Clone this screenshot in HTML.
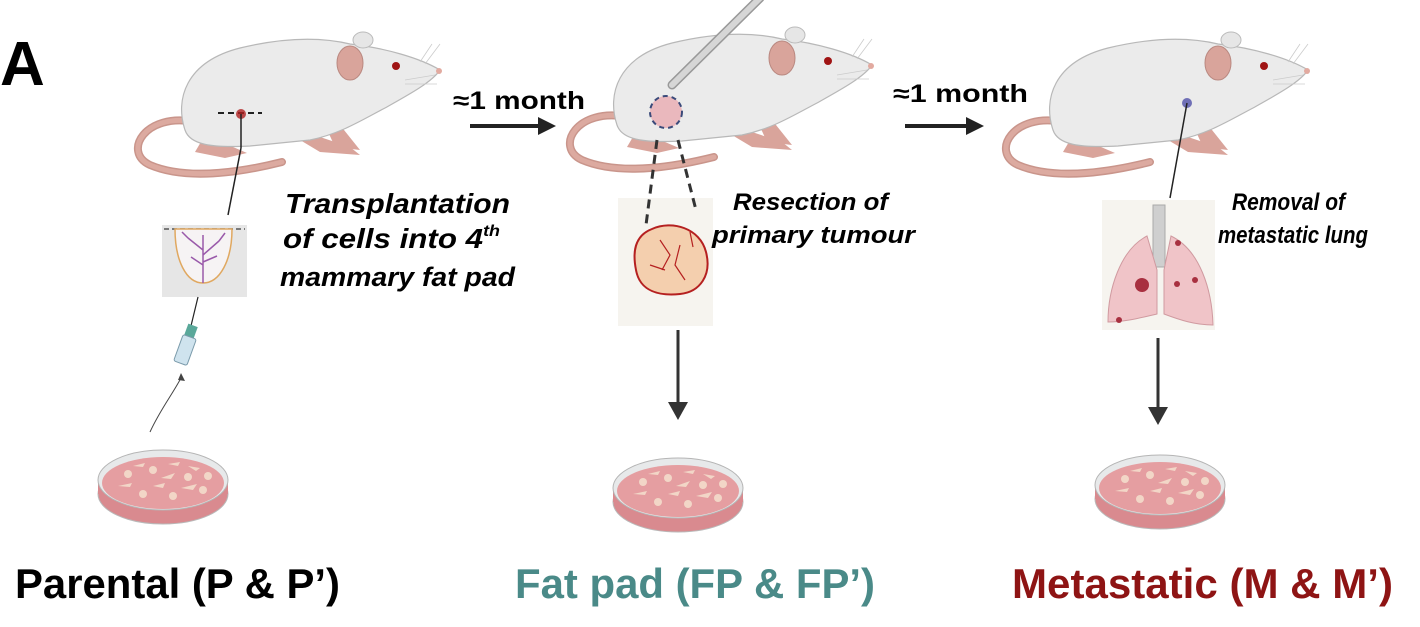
<!DOCTYPE html>
<html><head><meta charset="utf-8"><style>
html,body{margin:0;padding:0;background:#fff;}
svg{display:block;}
text{font-family:"Liberation Sans",Arial,sans-serif;font-weight:bold;}
</style></head><body>
<svg width="1420" height="627" viewBox="0 0 1420 627" xmlns="http://www.w3.org/2000/svg">
<defs>
<g id="mouse">
  <path d="M195,122 C145,112 122,152 150,165 C190,182 250,170 282,162" fill="none" stroke="#c9958b" stroke-width="8" stroke-linecap="round"/>
  <path d="M195,122 C145,112 122,152 150,165 C190,182 250,170 282,162" fill="none" stroke="#dcaaa0" stroke-width="5" stroke-linecap="round"/>
  <path d="M205,135 l-10,17 l30,6 l22,-5 z" fill="#d9a49b"/>
  <path d="M300,140 l20,12 l40,3 l-10,-8 l-30,-10 z" fill="#d9a49b"/>
  <path d="M325,125 l10,22 l25,3 l-20,-25 z" fill="#d9a49b"/>
  <path d="M185,130 C175,100 185,62 240,48 C290,36 325,38 350,44 C385,48 420,58 440,70 C432,82 410,94 385,108 C362,120 340,134 310,140 L250,146 C212,148 190,145 185,130 Z" fill="#ebebeb" stroke="#b8b8b8" stroke-width="1.2"/>
  <ellipse cx="363" cy="40" rx="10" ry="8" fill="#e6e6e6" stroke="#bbb"/>
  <ellipse cx="350" cy="63" rx="13" ry="17" fill="#d9a49b" stroke="#b98880"/>
  <circle cx="396" cy="66" r="4" fill="#a01414"/>
  <circle cx="439" cy="71" r="3" fill="#e2aaa0"/>
  <path d="M405,80 l30,-5 M405,84 l32,0 M420,62 l12,-18 M425,64 l15,-20" stroke="#ccc" stroke-width="0.8"/>
</g>
<g id="dish">
  <ellipse cx="0" cy="12" rx="65" ry="30" fill="#d98a8f" stroke="#b9b9b9"/>
  <rect x="-65" y="-2" width="130" height="14" fill="#d98a8f"/>
  <ellipse cx="0" cy="-2" rx="65" ry="30" fill="#e7e9ea" stroke="#b5b5b5"/>
  <ellipse cx="0" cy="1" rx="61" ry="26" fill="#e59ea1"/>
  <g fill="#f2d6c7">
    <circle cx="-35" cy="-8" r="4"/><circle cx="-10" cy="-12" r="4"/><circle cx="25" cy="-5" r="4"/><circle cx="40" cy="8" r="4"/><circle cx="-20" cy="12" r="4"/><circle cx="10" cy="14" r="4"/><circle cx="45" cy="-6" r="4"/>
    <path d="M-45,4 l14,-3 l-2,4 z M-2,-4 l14,-5 l-4,6 z M18,6 l16,-4 l-4,6 z M-30,-16 l12,-3 l-2,4z M5,-18 l12,-2 l-2,4z M-10,4 l12,-3 l-2,5z M25,-16 l12,2 l-4,3z"/>
  </g>
</g>
</defs>

<text x="0" y="85" font-size="62" fill="#000">A</text>

<use href="#mouse" x="0" y="0"/>
<use href="#mouse" x="432" y="-5"/>
<use href="#mouse" x="868" y="0"/>

<!-- mouse 1 details -->
<line x1="218" y1="113" x2="262" y2="113" stroke="#222" stroke-width="2" stroke-dasharray="6,4"/>
<circle cx="241" cy="114" r="5" fill="#b02020" opacity="0.8"/>
<line x1="241" y1="114" x2="241" y2="148" stroke="#222" stroke-width="1.5"/>
<line x1="241" y1="148" x2="228" y2="215" stroke="#222" stroke-width="1.5"/>
<rect x="162" y="225" width="85" height="72" fill="#e6e6e6"/>
<line x1="164" y1="229" x2="245" y2="229" stroke="#555" stroke-width="1.5" stroke-dasharray="5,3"/>
<path d="M175,229 L232,229 C232,260 220,283 203,283 C186,283 175,260 175,229 Z" fill="#f6f3f4" stroke="#e0a860" stroke-width="1.5"/>
<path d="M203,283 L203,235 M203,250 l-15,-12 M203,255 l16,-14 M203,265 l-12,-8 M203,262 l14,-6 M188,238 l-6,-6 M219,241 l6,-8" stroke="#9a5aaa" stroke-width="1.5" fill="none"/>
<line x1="198" y1="297" x2="190" y2="330" stroke="#222" stroke-width="1.2"/>
<rect x="186" y="325" width="10" height="12" fill="#5aa89a" transform="rotate(20 191 331)"/>
<rect x="178" y="336" width="14" height="28" rx="2" fill="#cfe3ee" stroke="#7a9aaa" transform="rotate(20 185 350)"/>
<path d="M150,432 C160,410 172,395 181,378" fill="none" stroke="#444" stroke-width="1"/>
<path d="M181,373 l4,8 l-7,-1 z" fill="#444"/>

<text x="285" y="213" font-size="28" font-style="italic" textLength="225" lengthAdjust="spacingAndGlyphs">Transplantation</text>
<text x="283" y="248" font-size="28" font-style="italic" textLength="217" lengthAdjust="spacingAndGlyphs">of cells into 4<tspan font-size="16" dy="-12">th</tspan></text>
<text x="280" y="286" font-size="27" font-style="italic" textLength="235" lengthAdjust="spacingAndGlyphs">mammary fat pad</text>

<!-- arrow 1 -->
<text x="453" y="109" font-size="25" textLength="132" lengthAdjust="spacingAndGlyphs">≈1 month</text>
<line x1="470" y1="126" x2="540" y2="126" stroke="#222" stroke-width="4"/>
<path d="M538,117 L556,126 L538,135 z" fill="#222"/>

<!-- mouse 2 details: scalpel -->
<line x1="672" y1="85" x2="760" y2="-2" stroke="#999" stroke-width="9" stroke-linecap="round"/>
<line x1="672" y1="85" x2="760" y2="-2" stroke="#d6d6d6" stroke-width="6" stroke-linecap="round"/>
<circle cx="666" cy="112" r="16" fill="#eab8bd" stroke="#3a4a7a" stroke-width="2" stroke-dasharray="5,4"/>
<rect x="618" y="198" width="95" height="128" fill="#f6f4ef"/>
<line x1="657" y1="140" x2="646" y2="225" stroke="#333" stroke-width="3" stroke-dasharray="9,6"/>
<line x1="678" y1="140" x2="696" y2="210" stroke="#333" stroke-width="3" stroke-dasharray="9,6"/>
<path d="M652,229 C672,220 700,228 706,252 C712,275 700,292 680,294 C660,296 640,292 636,270 C632,250 636,235 652,229 Z" fill="#f4cfae" stroke="#b52020" stroke-width="2"/>
<path d="M660,240 l10,15 l-8,15 M680,245 l-5,20 l10,15 M650,265 l15,5 M690,232 l3,15" stroke="#b52020" stroke-width="1.2" fill="none"/>
<text x="733" y="210" font-size="24" font-style="italic" textLength="155" lengthAdjust="spacingAndGlyphs">Resection of</text>
<text x="712" y="243" font-size="24" font-style="italic" textLength="203" lengthAdjust="spacingAndGlyphs">primary tumour</text>
<line x1="678" y1="330" x2="678" y2="403" stroke="#333" stroke-width="3"/>
<path d="M668,402 L678,420 L688,402 z" fill="#333"/>

<!-- arrow 2 -->
<text x="893" y="102" font-size="25" textLength="135" lengthAdjust="spacingAndGlyphs">≈1 month</text>
<line x1="905" y1="126" x2="968" y2="126" stroke="#222" stroke-width="4"/>
<path d="M966,117 L984,126 L966,135 z" fill="#222"/>

<!-- mouse 3 details -->
<circle cx="1187" cy="103" r="5" fill="#3a3aa0" opacity="0.7"/>
<line x1="1187" y1="103" x2="1170" y2="198" stroke="#222" stroke-width="1.5"/>
<rect x="1102" y="200" width="113" height="130" fill="#f6f4ef"/>
<rect x="1153" y="205" width="12" height="62" fill="#cfcfcf" stroke="#aaa"/>
<path d="M1147,236 C1120,250 1108,290 1108,322 C1125,322 1140,318 1157,314 L1157,270 Z" fill="#f0c4c8" stroke="#d09aa0"/>
<path d="M1171,236 C1200,250 1212,290 1213,325 C1195,325 1180,320 1164,314 L1164,270 Z" fill="#f0c4c8" stroke="#d09aa0"/>
<circle cx="1142" cy="285" r="7" fill="#a83040"/>
<circle cx="1178" cy="243" r="3" fill="#a83040"/><circle cx="1195" cy="280" r="3" fill="#a83040"/><circle cx="1177" cy="284" r="3" fill="#a83040"/><circle cx="1119" cy="320" r="3" fill="#a83040"/>
<text x="1232" y="210" font-size="24" font-style="italic" textLength="113" lengthAdjust="spacingAndGlyphs">Removal of</text>
<text x="1218" y="243" font-size="24" font-style="italic" textLength="150" lengthAdjust="spacingAndGlyphs">metastatic lung</text>
<line x1="1158" y1="338" x2="1158" y2="408" stroke="#333" stroke-width="3"/>
<path d="M1148,407 L1158,425 L1168,407 z" fill="#333"/>

<use href="#dish" x="163" y="482"/>
<use href="#dish" x="678" y="490"/>
<use href="#dish" x="1160" y="487"/>

<text x="15" y="598" font-size="42" fill="#000" textLength="325" lengthAdjust="spacingAndGlyphs">Parental (P &amp; P’)</text>
<text x="515" y="598" font-size="42" fill="#4a8a88" textLength="360" lengthAdjust="spacingAndGlyphs">Fat pad (FP &amp; FP’)</text>
<text x="1012" y="598" font-size="42" fill="#8e1414" textLength="381" lengthAdjust="spacingAndGlyphs">Metastatic (M &amp; M’)</text>
</svg>
</body></html>
